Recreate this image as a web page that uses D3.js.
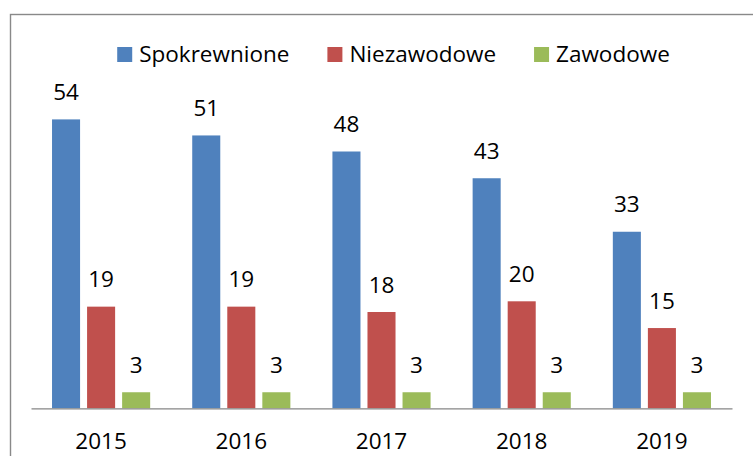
<!DOCTYPE html>
<html>
<head>
<meta charset="utf-8">
<script src="https://cdn.jsdelivr.net/npm/d3@7"></script>
<style>
  body { margin: 0; background: #fff; }
  svg { display: block; font-family: "Open Sans", sans-serif; }
</style>
</head>
<body>
<div id="chart"></div>
<script>
// data
var years = ["2015", "2016", "2017", "2018", "2019"];
var seriesNames = ["Spokrewnione", "Niezawodowe", "Zawodowe"];
var spokrewnione = [54, 51, 48, 43, 33];
var niezawodowe = [19, 19, 18, 20, 15];
var zawodowe = [3, 3, 3, 3, 3];
var colors = ["#4F81BD", "#C0504D", "#9BBB59"];

var width = 753, height = 456;
var seriesValues = [spokrewnione, niezawodowe, zawodowe];

var svg = d3.select("#chart").append("svg")
    .attr("width", width)
    .attr("height", height);

// chart area frame (runs off the right/bottom of the picture)
svg.append("rect")
    .attr("x", 10.5).attr("y", 14.5)
    .attr("width", 800).attr("height", 500)
    .attr("fill", "#fff")
    .attr("stroke", "#898989")
    .attr("stroke-width", 1.4);

var x = d3.scaleBand().domain(years).range([31, 732]);
var xSub = d3.scaleBand().domain(seriesNames).range([0, x.bandwidth()])
    .paddingInner(0.2).paddingOuter(0.6);
var y = d3.scaleLinear().domain([0, 60]).range([408.3, 87.3]);

// rows: one entry per bar
var rows = [];
years.forEach(function (yr, i) {
    seriesNames.forEach(function (s, j) {
        rows.push({year: yr, series: s, value: seriesValues[j][i], color: colors[j]});
    });
});

var groups = svg.append("g");

groups.selectAll("rect.bar").data(rows).enter()
    .append("rect")
    .attr("class", "bar")
    .attr("x", function (d) { return x(d.year) + xSub(d.series); })
    .attr("y", function (d) { return y(d.value); })
    .attr("width", xSub.bandwidth())
    .attr("height", function (d) { return y(0) - y(d.value); })
    .attr("fill", function (d) { return d.color; });

groups.selectAll("text.val").data(rows).enter()
    .append("text")
    .attr("class", "val")
    .attr("x", function (d) { return x(d.year) + xSub(d.series) + xSub.bandwidth() / 2; })
    .attr("y", function (d) { return y(d.value) - 19.5; })
    .attr("text-anchor", "middle")
    .attr("font-size", 22.5)
    .attr("fill", "#000")
    .text(function (d) { return d.value; });

// category axis
var xAxis = svg.append("g")
    .attr("transform", "translate(0," + y(0) + ")")
    .call(d3.axisBottom(x).tickSize(0).tickPadding(0));
xAxis.select(".domain").attr("stroke", "#868686").attr("stroke-width", 1.3);
xAxis.selectAll(".tick text")
    .attr("dy", null)
    .attr("y", 41)
    .attr("font-size", 22.5)
    .attr("font-family", "Open Sans, sans-serif")
    .attr("fill", "#000");

// legend, centred over the chart area
var legend = svg.append("g");
var items = legend.selectAll("g").data(seriesNames).enter().append("g");
items.append("rect")
    .attr("width", 15).attr("height", 15)
    .attr("y", 47)
    .attr("fill", function (d, i) { return colors[i]; });
items.append("text")
    .attr("x", 22).attr("y", 62)
    .attr("font-size", 22.5)
    .attr("fill", "#000")
    .text(function (d) { return d; });

var pos = 0;
items.each(function () {
    var g = d3.select(this);
    g.attr("transform", "translate(" + pos + ",0)");
    pos += 22 + g.select("text").node().getComputedTextLength() + 38;
});
var legendWidth = pos - 38;
legend.attr("transform", "translate(" + (393.5 - legendWidth / 2) + ",0)");
</script>
</body>
</html>
